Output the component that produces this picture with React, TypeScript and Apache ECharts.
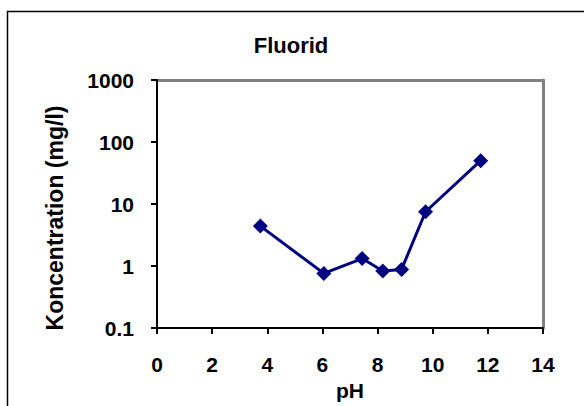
import React, { useEffect, useRef } from "react";
import * as echarts from "echarts";

const titleText = "Fluorid";
const xName = "pH";
const yName = "Koncentration (mg/l)";
const phValues = [3.75, 6.05, 7.44, 8.19, 8.87, 9.74, 11.74];
const concValues = [4.4, 0.76, 1.32, 0.83, 0.88, 7.5, 50];
const xMin = 0;
const xMax = 14;
const xStep = 2;
const yMin = 0.1;
const yMax = 1000;

const FONT = "'Liberation Sans', Arial, Helvetica, sans-serif";

export default function App() {
  const ref = useRef<HTMLDivElement>(null);
  useEffect(() => {
    if (!ref.current) return;
    const chart = echarts.init(ref.current, undefined, { renderer: "svg" });
    const data = phValues.map((x, i) => [x, concValues[i]]);
    chart.setOption({
      animation: false,
      backgroundColor: "#ffffff",
      textStyle: { fontFamily: FONT },
      grid: { left: 157, top: 80, width: 386, height: 248, containLabel: false },
      xAxis: [
        {
          type: "value",
          min: xMin,
          max: xMax,
          interval: xStep,
          position: "bottom",
          name: xName,
          nameLocation: "middle",
          nameGap: 47,
          nameTextStyle: { fontFamily: FONT, fontWeight: "bold", fontSize: 21, color: "#000" },
          axisLine: { onZero: false, lineStyle: { color: "#000", width: 2 } },
          axisTick: { show: true, inside: false, length: 6, lineStyle: { color: "#000", width: 2 } },
          axisLabel: { margin: 26, fontFamily: FONT, fontWeight: "bold", fontSize: 21, color: "#000" },
          splitLine: { show: false },
          z: 5,
        },
        {
          type: "value",
          min: xMin,
          max: xMax,
          interval: xStep,
          position: "top",
          axisLine: { onZero: false, lineStyle: { color: "#808080", width: 3 } },
          axisTick: { show: false },
          axisLabel: { show: false },
          splitLine: { show: false },
          z: 4,
        },
      ],
      yAxis: [
        {
          type: "log",
          logBase: 10,
          min: yMin,
          max: yMax,
          position: "left",
          axisLine: { onZero: false, lineStyle: { color: "#000", width: 2 } },
          axisTick: { show: true, inside: false, length: 6, lineStyle: { color: "#000", width: 2 } },
          axisLabel: {
            margin: 23,
            fontFamily: FONT,
            fontWeight: "bold",
            fontSize: 21,
            color: "#000",
            formatter: (v: number) => String(Number(v.toPrecision(6))),
          },
          splitLine: { show: false },
          z: 5,
        },
        {
          type: "log",
          logBase: 10,
          min: yMin,
          max: yMax,
          position: "right",
          axisLine: { onZero: false, lineStyle: { color: "#808080", width: 3 } },
          axisTick: { show: false },
          axisLabel: { show: false },
          splitLine: { show: false },
          z: 4,
        },
      ],
      graphic: [
        {
          type: "rect",
          shape: { x: 7.5, y: 11.5, width: 620, height: 420 },
          style: { fill: "none", stroke: "#000", lineWidth: 1.5 },
          silent: true,
        },
        {
          type: "text",
          x: 291,
          y: 45,
          style: {
            text: titleText,
            font: `bold 22px ${FONT}`,
            fill: "#000",
            align: "center",
            verticalAlign: "middle",
          },
        },
        {
          type: "text",
          x: 55,
          y: 218,
          rotation: Math.PI / 2,
          style: {
            text: yName,
            font: `bold 23px ${FONT}`,
            fill: "#000",
            align: "center",
            verticalAlign: "middle",
          },
        },
      ],
      series: [
        {
          type: "line",
          data,
          xAxisIndex: 0,
          yAxisIndex: 0,
          symbol: "diamond",
          symbolSize: 15,
          lineStyle: { color: "#000080", width: 3 },
          itemStyle: { color: "#000080", borderWidth: 0 },
          z: 10,
        },
      ],
    });
    return () => chart.dispose();
  }, []);
  return (
    <div
      ref={ref}
      style={{ position: "fixed", left: 0, top: 0, width: 584, height: 406, background: "#fff" }}
    />
  );
}
